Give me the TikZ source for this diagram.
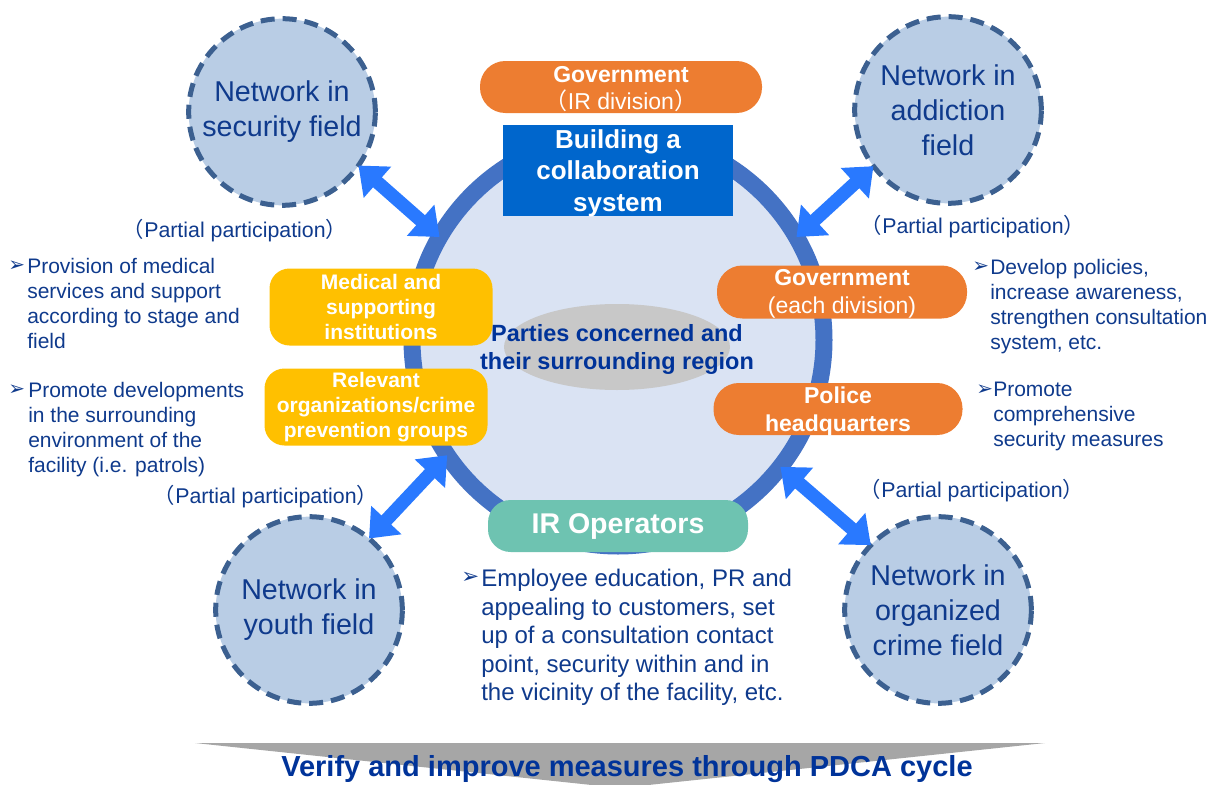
\documentclass[tikz,border=0pt]{standalone}
\usepackage{fontspec}
\setmainfont{Liberation Sans}
\newfontfamily\cjk{Noto Sans CJK JP}
\newfontfamily\dejavu{DejaVu Sans}
\usetikzlibrary{arrows.meta,shapes.geometric}
\definecolor{ringcol}{HTML}{4472C4}
\definecolor{innerfill}{HTML}{DAE3F3}
\definecolor{satfill}{HTML}{B9CDE5}
\definecolor{satline}{HTML}{3C6090}
\definecolor{arrowblue}{HTML}{2979FF}
\definecolor{orangec}{HTML}{ED7D31}
\definecolor{buildblue}{HTML}{0066CC}
\definecolor{yellowc}{HTML}{FFC000}
\definecolor{tealc}{HTML}{6EC3B1}
\definecolor{grayell}{HTML}{C8C8C8}
\definecolor{graytri}{HTML}{A6A6A6}
\definecolor{navy}{HTML}{0F3A8C}
\definecolor{boldnavy}{HTML}{003399}
\newcommand\fsz[2]{\fontsize{#1}{#2}\selectfont}
\begin{document}
\begin{tikzpicture}[x=0.75pt,y=-0.75pt,
  sat/.style={circle, draw=satline, fill=satfill, line width=3.75pt,
    dash pattern=on 10.5pt off 6pt, minimum size=140pt, inner sep=0pt,
    outer sep=0pt, align=center, text=navy, font=\fsz{21.5}{26.2}},
  biarrow/.style={draw=arrowblue, line width=10pt,
    {Triangle[length=19pt,width=30pt]}-{Triangle[length=19pt,width=30pt]}},
  roundbox/.style={rounded corners=#1, inner sep=0pt, align=center, text=white},
  obox/.style={roundbox=19pt, fill=orangec, font=\fsz{17.25}{21}},
  ybox/.style={roundbox=15pt, fill=yellowc, font=\bfseries\fsz{15.75}{18.75},
    minimum width=167.25pt, minimum height=57.75pt},
  txt/.style={inner sep=0pt, align=left, text=navy, font=\fsz{15.75}{18.75}},
  bul/.style={inner sep=0pt, anchor=west, text=navy, font=\dejavu\fsz{15}{15}},
  partial/.style={inner sep=0pt, text=navy, font=\fsz{16}{19}}
]
\useasboundingbox (0,0) rectangle (1224,785);
\clip (0,0) rectangle (1224,785);

% PDCA triangle
\fill[graytri] (195,743) -- (1045,743) -- (620,788) -- cycle;
\node[inner sep=0pt, text=boldnavy, font=\bfseries\fsz{21.75}{24}] (pdca) at (627,769)
  {Verify and improve measures through PDCA cycle};

% main circle
\node[circle, draw=ringcol, fill=innerfill, line width=12.75pt,
  minimum size=309pt, inner sep=0pt, outer sep=0pt] (main) at (618,340) {};

% satellites
\node[sat] (sec) at (282,112) {Network in\\security field};
\node[sat] (add) at (948,110) {Network in\\addiction\\field};
\node[sat] (youth) at (309,610) {Network in\\youth field};
\node[sat] (crime) at (938,610) {Network in\\organized\\crime field};

% arrows
\draw[biarrow] (sec.-35) -- (main.150);
\draw[biarrow] (add.-143) -- (main.30.7);
\draw[biarrow] (youth.50.7) -- (main.214.7);
\draw[biarrow] (crime.136) -- (main.-38.2);

% center ellipse and text
\node[ellipse, fill=grayell, minimum width=169.5pt, minimum height=64.5pt,
  inner sep=0pt] (ell) at (617,347) {};
\node[inner sep=0pt, align=center, text=boldnavy, font=\bfseries\fsz{17.6}{21}]
  (parties) at (617,349) {Parties concerned and\\their surrounding region};

% boxes
\node[obox, minimum width=211.5pt, minimum height=39pt] (govir) at (621,87) {};
\node[inner sep=0pt, align=center, text=white, font=\fsz{17.25}{20.5}] (govirt) at (621,89)
  {\textbf{Government}\\{\cjk （}IR division{\cjk ）}};
\node[fill=buildblue, minimum width=172.5pt, minimum height=68.25pt,
  inner sep=0pt] (build) at (618,170) {};
\node[inner sep=0pt, align=center, text=white, font=\bfseries\fsz{19.5}{23.6}]
  (buildt) at (618,173) {Building a\\collaboration\\system};
\node[ybox] (med) at (381,307) {Medical and\\supporting\\institutions};
\node[ybox] (rel) at (376,407) {Relevant\\organizations/crime\\prevention groups};
\node[obox, minimum width=187.5pt, minimum height=39.75pt] (goveach) at (842,292) {};
\node[inner sep=0pt, align=center, text=white, font=\fsz{17.25}{21}] (goveacht) at (842,294)
  {\textbf{Government}\\(each division)};
\node[obox, minimum width=186.75pt, minimum height=39pt] (police) at (838,409) {};
\node[inner sep=0pt, align=center, text=white, font=\bfseries\fsz{17.25}{21}]
  (policet) at (838,412) {Police\\headquarters};
\node[roundbox=17pt, fill=tealc, minimum width=195pt, minimum height=39pt,
  font=\bfseries\fsz{21.4}{24}] (irop) at (618,526) {IR Operators};

% partial participation labels
\node[partial] (pp1) at (235,231) {{\cjk （}Partial participation{\cjk ）}};
\node[partial] (pp2) at (973,227) {{\cjk （}Partial participation{\cjk ）}};
\node[partial] (pp3) at (266,497) {{\cjk （}Partial participation{\cjk ）}};
\node[partial] (pp4) at (972,491) {{\cjk （}Partial participation{\cjk ）}};

% left bullets
\node[bul] (bl1) at (8,266) {➢};
\node[txt, anchor=north west] (tl1) at (27,258)
  {Provision of medical\\services and support\\according to stage and\\field};
\node[bul] (bl2) at (8,390) {➢};
\node[txt, anchor=north west] (tl2) at (28,382)
  {Promote developments\\in the surrounding\\environment of the\\facility (i.e. patrols)};

% right bullets
\node[bul] (br1) at (972,267) {➢};
\node[txt, anchor=north west] (tr1) at (990,259)
  {Develop policies,\\increase awareness,\\strengthen consultation\\system, etc.};
\node[bul] (br2) at (976,390) {➢};
\node[txt, anchor=north west] (tr2) at (993,382)
  {Promote\\comprehensive\\security measures};

% bottom bullet
\node[bul, font=\dejavu\fsz{16}{16}] (bb) at (461,578) {➢};
\node[txt, anchor=north west, font=\fsz{18}{21.4}] (tb) at (481,569)
  {Employee education, PR and\\appealing to customers, set\\up of a consultation contact\\point, security within and in\\the vicinity of the facility, etc.};
\end{tikzpicture}
\end{document}
